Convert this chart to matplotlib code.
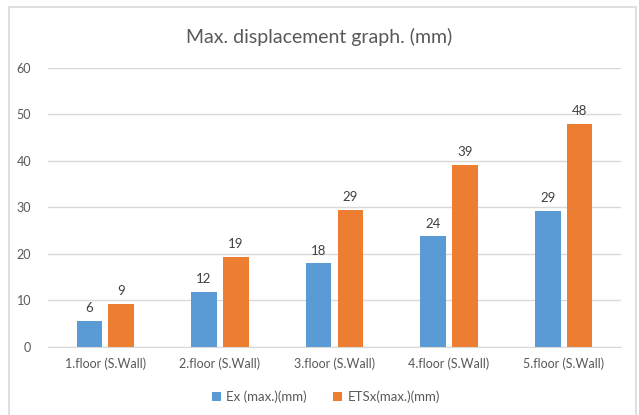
import matplotlib.pyplot as plt
import numpy as np
from matplotlib.patches import Rectangle

plt.rcParams['font.family'] = ['Lato', 'DejaVu Sans']

floors = ['1.floor (S.Wall)', '2.floor (S.Wall)', '3.floor (S.Wall)',
          '4.floor (S.Wall)', '5.floor (S.Wall)']
ex_max = [5.6, 11.8, 17.9, 23.7, 29.1]
etsx_max = [9.2, 19.2, 29.4, 39.1, 47.8]
series_names = ['Ex (max.)(mm)', 'ETSx(max.)(mm)']

blue = '#5B9BD5'
orange = '#ED7D31'
grid_grey = '#D9D9D9'
text_grey = '#595959'

fig = plt.figure(figsize=(6.39, 4.15), dpi=100)
ax = fig.add_axes([0.0751, 0.1646, 0.8967, 0.6723])

# outer chart frame
fig.patches.append(Rectangle((9 / 639, -0.05), 627 / 639, 1.05 - 7.5 / 415,
                             transform=fig.transFigure, fill=False,
                             edgecolor=grid_grey, linewidth=1.2))

x = np.arange(len(floors))
w = 0.2225
off = 0.139
b1 = ax.bar(x - off, ex_max, w, color=blue, label=series_names[0])
b2 = ax.bar(x + off, etsx_max, w, color=orange, label=series_names[1])

for bars in (b1, b2):
    ax.bar_label(bars, labels=['%.0f' % b.get_height() for b in bars],
                 padding=5, fontsize=9.5, color='#404040')

ax.set_xlim(-0.5, len(floors) - 0.5)
ax.set_ylim(0, 60)
ax.set_yticks(range(0, 61, 10))
ax.set_xticks(x)
ax.set_xticklabels(floors)
ax.tick_params(axis='both', length=0, labelsize=9, labelcolor=text_grey)
ax.tick_params(axis='x', pad=8)
ax.tick_params(axis='y', pad=12)
ax.yaxis.grid(True, color=grid_grey, linewidth=1)
ax.set_axisbelow(True)
for side in ('top', 'right', 'left'):
    ax.spines[side].set_visible(False)
ax.spines['bottom'].set_color(grid_grey)

fig.text(0.5, 0.912, 'Max. displacement graph. (mm)', ha='center', va='center',
         fontsize=14, color=text_grey)

fig.legend(loc='center', bbox_to_anchor=(0.51, 0.043), ncol=2, frameon=False,
           fontsize=9.5, labelcolor=text_grey, handlelength=0.7, handleheight=0.7,
           handletextpad=0.4, columnspacing=2.0)

fig.savefig('out.png', dpi=100)
